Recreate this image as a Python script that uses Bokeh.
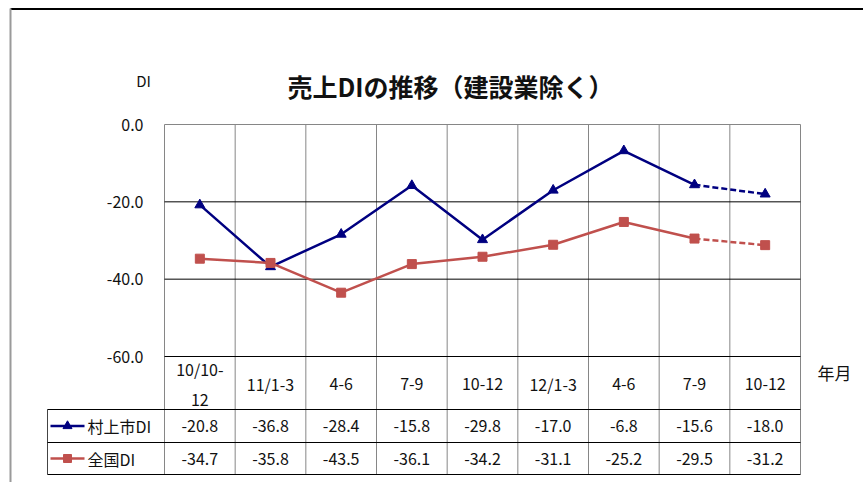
from bokeh.plotting import figure
from bokeh.models import Range1d
from bokeh.core.properties import value
from bokeh.embed import file_html
from bokeh.resources import INLINE

# ---------------- data ----------------
categories = ["10/10-\n12", "11/1-3", "4-6", "7-9", "10-12", "12/1-3", "4-6", "7-9", "10-12"]
murakami = [-20.8, -36.8, -28.4, -15.8, -29.8, -17.0, -6.8, -15.6, -18.0]
zenkoku = [-34.7, -35.8, -43.5, -36.1, -34.2, -31.1, -25.2, -29.5, -31.2]
series_names = ["村上市DI", "全国DI"]
y_ticks = [0, -20, -40, -60]
title_text = "売上DIの推移（建設業除く）"
y_label = "DI"
x_label = "年月"

# ---------------- layout helpers ----------------
W, H = 863, 482
PAGE_OFF = 0
PLOT_L, PLOT_R, PLOT_T, PLOT_B = 164, 800, 124, 356   # page pixels of plot area
Y_MIN, Y_MAX = -60, 0
N = len(categories)
SX = (PLOT_R - PLOT_L) / N
SY = (PLOT_B - PLOT_T) / (Y_MAX - Y_MIN)

def dx(px):
    return (px - PLOT_L) / SX

def dy(py):
    return Y_MAX - (py - PLOT_T) / SY

p = figure(width=W, height=H,
           x_range=Range1d(dx(PAGE_OFF), dx(PAGE_OFF + W)),
           y_range=Range1d(dy(PAGE_OFF + H), dy(PAGE_OFF)),
           x_axis_location=None, y_axis_location=None,
           min_border=0, toolbar_location=None, output_backend="svg")
p.grid.visible = False
p.outline_line_color = None
p.background_fill_color = "white"

FONT = value("Noto Sans CJK JP")
NAVY = "#000080"
RED = "#C0504D"
GRAY = "#868686"
TXT = "#111111"

# outer border (top black, left gray)
p.segment(x0=[dx(10)], y0=[dy(8.5)], x1=[dx(PAGE_OFF + W)], y1=[dy(8.5)], line_color="black", line_width=2)
p.segment(x0=[dx(10)], y0=[dy(8)], x1=[dx(10)], y1=[dy(PAGE_OFF + H)], line_color="#9a9a9a", line_width=2)

# table geometry
ROW1_TOP, ROW2_TOP, TABLE_B = 409, 442, 474
TABLE_L = 47

# vertical grid lines (category boundaries), through plot and table
xs = list(range(N + 1))
p.segment(x0=xs, y0=[Y_MAX] * len(xs), x1=xs, y1=[dy(TABLE_B)] * len(xs), line_color=GRAY, line_width=1)
# table left edge
p.segment(x0=[dx(TABLE_L)], y0=[dy(ROW1_TOP)], x1=[dx(TABLE_L)], y1=[dy(TABLE_B)], line_color="#444444", line_width=1)

# horizontal grid lines
for t in y_ticks:
    col = GRAY if t == Y_MAX else "black"
    p.segment(x0=[0], y0=[t], x1=[N], y1=[t], line_color=col, line_width=1)
for py in (ROW1_TOP, ROW2_TOP, TABLE_B):
    p.segment(x0=[dx(TABLE_L)], y0=[dy(py)], x1=[N], y1=[dy(py)], line_color="black", line_width=1)

# y tick labels
p.text(x=[dx(143)] * len(y_ticks), y=y_ticks, text=[f"{t:.1f}" for t in y_ticks],
       text_font=FONT, text_font_size="16px", text_align="right", text_baseline="middle",
       text_color=TXT)

# axis labels and title
p.text(x=[dx(143)], y=[dy(80)], text=[y_label], text_font=FONT, text_font_size="15px",
       text_align="center", text_baseline="middle", text_color=TXT)
p.text(x=[dx(834)], y=[dy(372)], text=[x_label], text_font=FONT, text_font_size="17px",
       text_align="center", text_baseline="middle", text_color=TXT)
p.text(x=[dx(450)], y=[dy(85)], text=[title_text], text_font=FONT, text_font_size="25px",
       text_font_style="bold", text_align="center", text_baseline="middle", text_color=TXT)

# series
centers = [i + 0.5 for i in range(N)]
for vals, col, marker, msize in ((murakami, NAVY, "triangle", 10), (zenkoku, RED, "square", 9)):
    p.line(centers[:-1], vals[:-1], line_color=col, line_width=2.5)
    p.line(centers[-2:], vals[-2:], line_color=col, line_width=2.5, line_dash="6 3")
    p.scatter(centers, vals, marker=marker, size=msize, fill_color=col, line_color=col)

# header row (categories)
p.text(x=centers, y=[dy(383)] * N, text=categories, text_font=FONT, text_font_size="16px",
       text_align="center", text_baseline="middle", text_line_height=1.25, text_color=TXT)

# data rows
row_centers = [dy((ROW1_TOP + ROW2_TOP) / 2), dy((ROW2_TOP + TABLE_B) / 2)]
for vals, rc in ((murakami, row_centers[0]), (zenkoku, row_centers[1])):
    p.text(x=centers, y=[rc] * N, text=[f"{v:.1f}" for v in vals], text_font=FONT,
           text_font_size="16px", text_align="center", text_baseline="middle", text_color=TXT)

# legend keys in table
for name, rc, col, marker, msize in ((series_names[0], row_centers[0], NAVY, "triangle", 9),
                                     (series_names[1], row_centers[1], RED, "square", 8)):
    p.segment(x0=[dx(50)], y0=[rc], x1=[dx(84)], y1=[rc], line_color=col, line_width=2.5)
    p.scatter([dx(67)], [rc], marker=marker, size=msize, fill_color=col, line_color=col)
    p.text(x=[dx(87)], y=[rc], text=[name], text_font=FONT, text_font_size="16px",
           text_align="left", text_baseline="middle", text_color=TXT)

open("out.html", "w").write(file_html(p, INLINE))
